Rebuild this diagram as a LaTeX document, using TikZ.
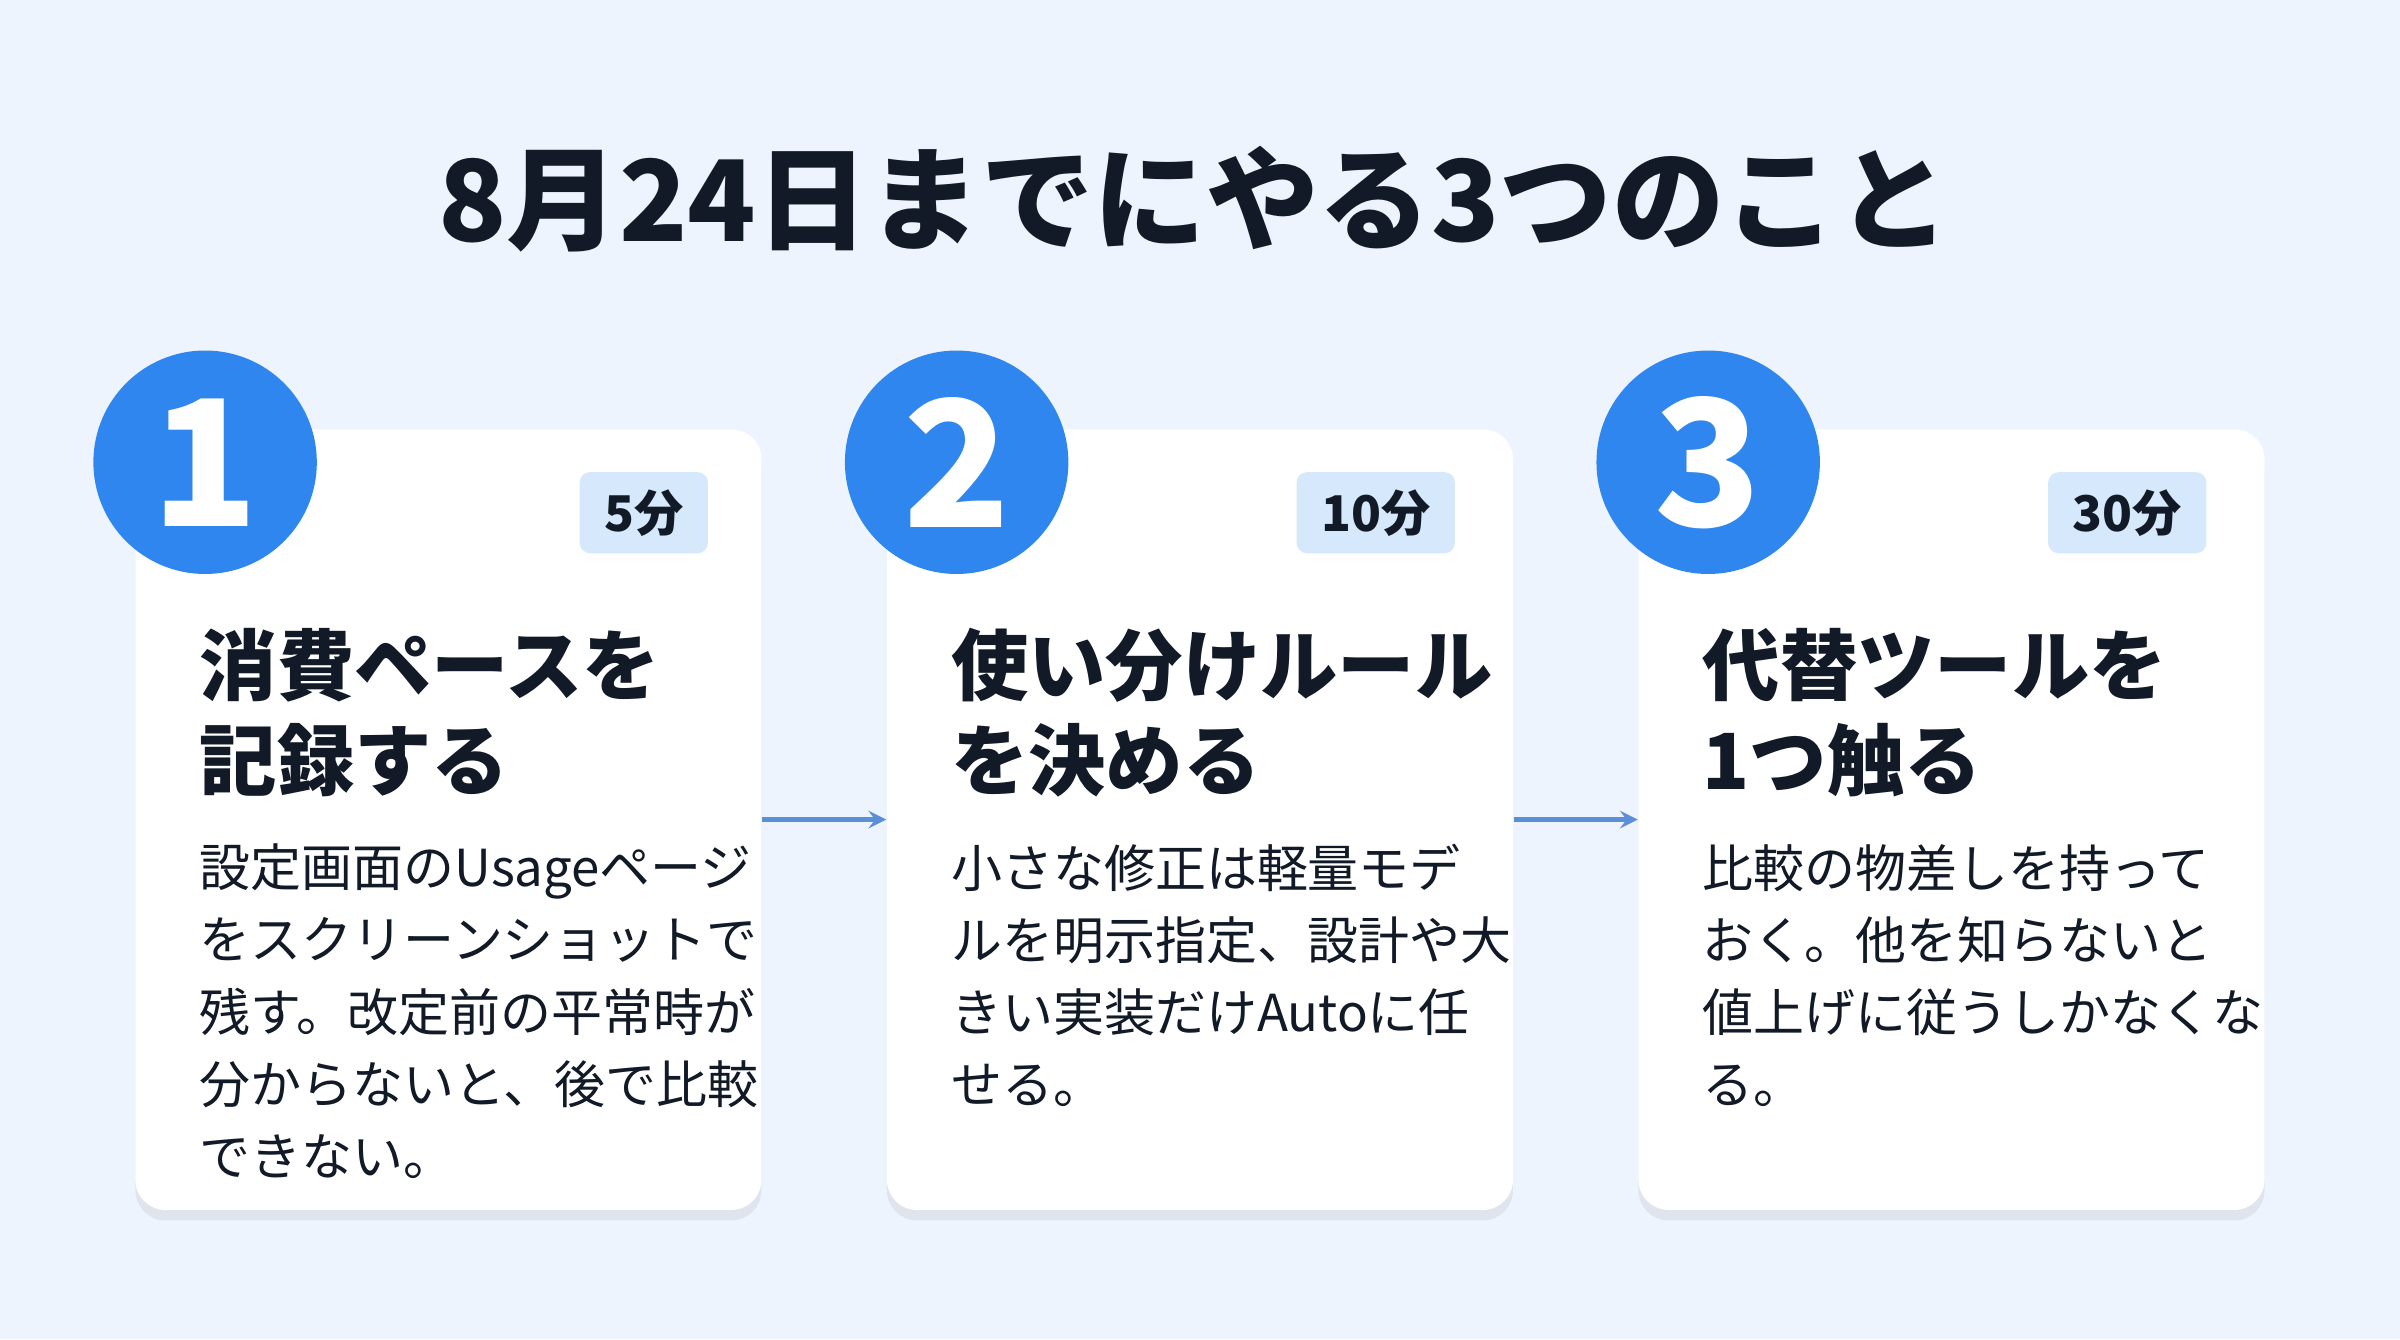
\documentclass[tikz,border=0pt]{standalone}
\usepackage{fontspec}
\setmainfont{Noto Sans CJK JP}
\usetikzlibrary{positioning,shadows}
\definecolor{bgblue}{HTML}{EEF4FD}
\definecolor{stepblue}{HTML}{2F86EE}
\definecolor{badgeblue}{HTML}{D6E8FB}
\definecolor{arrowblue}{HTML}{5B8FD8}
\definecolor{inkdark}{HTML}{111A26}
\begin{document}
\begin{tikzpicture}[
        x = 0.01531cm, y = -0.01531cm,
        > = stealth, % arrow head style
        card/.style = {fill = white, rounded corners = 0.3cm, minimum width = 409*0.01531cm,
            minimum height = 510*0.01531cm, anchor = north west,
            drop shadow = {shadow xshift = 0pt, shadow yshift = -3pt, opacity = 0.12}},
        stepmark/.style = {circle, fill = stepblue, minimum size = 146*0.01531cm, text = white,
            font = \fontsize{50}{50}\selectfont\bfseries},
        badge/.style = {fill = badgeblue, rounded corners = 3pt, minimum height = 53*0.01531cm,
            inner xsep = 7pt, text = inkdark, font = \fontsize{14}{14}\selectfont\bfseries, anchor = north east},
        heading/.style = {anchor = north west, align = left, text = inkdark, inner sep = 0pt,
            font = \fontsize{22}{27}\selectfont\bfseries},
        body/.style = {anchor = north west, align = left, text = inkdark, inner sep = 0pt,
            font = \fontsize{14.5}{20.5}\selectfont},
        flow/.style = {->, draw = arrowblue, line width = 1.2pt}
    ]

    \fill[bgblue] (0,0) rectangle (1568,875);
    \node[text = inkdark, font = \fontsize{32}{32}\selectfont\bfseries] (title) at (780,130) {8月24日までにやる3つのこと};

    % cards
    \node[card] (c1) at (88,280) {};
    \node[card] (c2) at (579,280) {};
    \node[card] (c3) at (1070,280) {};

    \node[stepmark] (s1) at (134,302) {1};
    \node[stepmark] (s2) at (625,302) {2};
    \node[stepmark] (s3) at (1116,302) {3};

    \node[badge] (t1) at (463,308) {5分};
    \node[badge] (t2) at (951,308) {10分};
    \node[badge] (t3) at (1442,308) {30分};

    \node[heading] (h1) at (130,410) {消費ペースを\\記録する};
    \node[heading] (h2) at (621,410) {使い分けルール\\を決める};
    \node[heading] (h3) at (1112,410) {代替ツールを\\1つ触る};

    \node[body] (b1) at (130,551) {設定画面のUsageページ\\をスクリーンショットで\\残す。改定前の平常時が\\分からないと、後で比較\\できない。};
    \node[body] (b2) at (621,551) {小さな修正は軽量モデ\\ルを明示指定、設計や大\\きい実装だけAutoに任\\せる。};
    \node[body] (b3) at (1112,551) {比較の物差しを持って\\おく。他を知らないと\\値上げに従うしかなくな\\る。};

    \draw[flow] (c1.east) -- (c2.west);
    \draw[flow] (c2.east) -- (c3.west);

\end{tikzpicture}
\end{document}
